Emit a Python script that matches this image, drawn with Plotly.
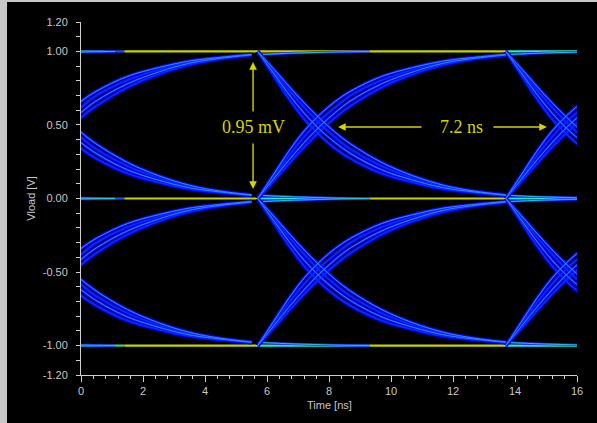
import plotly.graph_objects as go

# ---------------- data ----------------
x_tickvals = [0, 2, 4, 6, 8, 10, 12, 14, 16]
x_ticktext = ["0", "2", "4", "6", "8", "10", "12", "14", "16"]
y_tickvals = [-1.2, -1.0, -0.5, 0.0, 0.5, 1.0, 1.2]
y_ticktext = ["-1.20", "-1.00", "-0.50", "0.00", "0.50", "1.00", "1.20"]

# bit transitions (ns) seen in the window; the first lies left of t=0
transition_times = [-2.5, 5.7, 13.7]
# lower logic level of each eye (upper eye 0..1 V, lower eye -1..0 V)
eye_lows = [0.0, -1.0]
eye_swing = 1.0

# time after a transition (ns) and the voltage of the rising traces above the low level
edge_dt = [0, 0.5, 1.0, 1.5, 2.0, 2.5, 3.0, 4.0, 5.0, 6.0, 7.0, 8.0]
rise_traces = [
    [0.00, 0.16, 0.32, 0.46, 0.57, 0.66, 0.73, 0.83, 0.89, 0.935, 0.96, 0.98],
    [0.00, 0.145, 0.29, 0.42, 0.53, 0.62, 0.70, 0.805, 0.875, 0.927, 0.957, 0.978],
    [0.00, 0.13, 0.26, 0.38, 0.49, 0.585, 0.665, 0.78, 0.86, 0.92, 0.953, 0.976],
    [0.00, 0.115, 0.235, 0.35, 0.455, 0.55, 0.63, 0.755, 0.845, 0.91, 0.95, 0.975],
]
# falling traces, voltage above the low level
fall_traces = [
    [1.00, 0.84, 0.68, 0.54, 0.43, 0.34, 0.27, 0.17, 0.11, 0.065, 0.04, 0.02],
    [1.00, 0.855, 0.71, 0.58, 0.47, 0.38, 0.305, 0.195, 0.125, 0.073, 0.044, 0.022],
    [1.00, 0.87, 0.74, 0.62, 0.51, 0.415, 0.335, 0.22, 0.14, 0.08, 0.047, 0.024],
    [1.00, 0.885, 0.765, 0.65, 0.545, 0.45, 0.37, 0.245, 0.155, 0.09, 0.05, 0.025],
]
# traces that stay at a level after a transition keep settling onto it
settle_dt = [0, 1.2, 2.4, 3.6]
settle_gap = [0.022, 0.011, 0.004, 0.0]

# steady-level line colouring (segment start/end in ns)
seg_start = [0.0, 0.8, 1.4, 5.7, 9.3, 13.7]
seg_end = [0.8, 1.4, 5.7, 9.3, 13.7, 16.0]
level_values = [1.0, 0.0, -1.0]
level_seg_colors = [
    ["#2fe3d3", "#1b4dff", "#c8d200", "#c8d200", "#c8d200", "#2fe3d3"],
    ["#2fe3d3", "#1b4dff", "#c8d200", "#2fe3d3", "#c8d200", "#2fe3d3"],
    ["#2fe3d3", "#46d070", "#c8d200", "#2fe3d3", "#c8d200", "#2fe3d3"],
]

# ---------------- build figure ----------------
fig = go.Figure()


def bundle(traces):
    xs, ys = [], []
    for low in eye_lows:
        for t0 in transition_times:
            for tr in traces:
                xs += [t0 + d for d in edge_dt] + [None]
                ys += [low + v for v in tr] + [None]
    return xs, ys


edge_x, edge_y = bundle(rise_traces + fall_traces)
core_x, core_y = bundle([rise_traces[0], rise_traces[2], fall_traces[1], fall_traces[3]])

settle_x, settle_y = [], []
for low in eye_lows:
    for t0 in transition_times:
        settle_x += [t0 + d for d in settle_dt] + [None]
        settle_y += [low + eye_swing - g for g in settle_gap] + [None]
        settle_x += [t0 + d for d in settle_dt] + [None]
        settle_y += [low + g for g in settle_gap] + [None]

# steady levels
for lv, cols in zip(level_values, level_seg_colors):
    for a, b, c in zip(seg_start, seg_end, cols):
        fig.add_trace(go.Scatter(x=[a, b], y=[lv, lv], mode="lines",
                                 line=dict(color=c, width=2.2),
                                 hoverinfo="skip", showlegend=False))

# settling traces near the levels
fig.add_trace(go.Scatter(x=settle_x, y=settle_y, mode="lines",
                         line=dict(color="#1030ff", width=2.4, shape="spline"),
                         hoverinfo="skip", showlegend=False))
fig.add_trace(go.Scatter(x=settle_x, y=settle_y, mode="lines",
                         line=dict(color="#30c8e8", width=0.9, shape="spline"),
                         hoverinfo="skip", showlegend=False))

# transition bundles (density look: dark wide, brighter core on some)
for col, w in [("#0000dc", 3.6), ("#0828ff", 1.8)]:
    fig.add_trace(go.Scatter(x=edge_x, y=edge_y, mode="lines",
                             line=dict(color=col, width=w, shape="spline", smoothing=1.0),
                             hoverinfo="skip", showlegend=False))
fig.add_trace(go.Scatter(x=core_x, y=core_y, mode="lines",
                         line=dict(color="#3a8cff", width=0.9, shape="spline", smoothing=1.0),
                         hoverinfo="skip", showlegend=False))

# ---------------- layout ----------------
# page offset (white frame of the screenshot): 7 px left, 2 px top
W, H = 590, 421
L, R, T, B = 74, 20, 20, 48
axis_col = "#cfcfcf"
font_col = "#c8c8c8"
yel = "#d6d400"

fig.update_layout(
    width=W, height=H,
    margin=dict(l=L, r=R, t=T, b=B, autoexpand=False),
    paper_bgcolor="black", plot_bgcolor="black",
    font=dict(family="Liberation Sans, Arial, sans-serif", size=11, color=font_col),
    showlegend=False,
)
fig.update_xaxes(
    range=[0, 16], tickmode="array", tickvals=x_tickvals, ticktext=x_ticktext,
    showgrid=False, zeroline=False, showline=True, linecolor=axis_col, linewidth=1,
    ticks="outside", ticklen=6, tickcolor=axis_col, tickwidth=1,
    minor=dict(dtick=0.4, tick0=0, ticks="outside", ticklen=3, tickcolor=axis_col, showgrid=False),
    tickfont=dict(size=11, color=font_col),
)
fig.update_yaxes(
    range=[-1.2, 1.2], tickmode="array", tickvals=y_tickvals, ticktext=y_ticktext,
    showgrid=False, zeroline=False, showline=True, linecolor=axis_col, linewidth=1,
    ticks="outside", ticklen=4, tickcolor=axis_col, tickwidth=1,
    minor=dict(dtick=0.1, tick0=0, ticks="outside", ticklen=4, tickcolor=axis_col, showgrid=False),
    tickfont=dict(size=11, color=font_col), ticklabelstandoff=6,
    title=dict(text="Vload [V]", font=dict(size=11, color=font_col), standoff=4),
)

# x-axis title placed just under the tick labels
fig.add_annotation(xref="paper", yref="paper", x=0.5, y=-30 / 353, yanchor="middle",
                   text="Time [ns]", showarrow=False, font=dict(size=11, color=font_col))

txt_font = dict(family="Liberation Serif, Times New Roman, serif", size=18, color=yel)
fig.add_annotation(x=5.58, y=0.486, text="0.95 mV", showarrow=False, font=txt_font)
fig.add_annotation(x=12.26, y=0.486, text="7.2 ns", showarrow=False, font=txt_font)
arrow_kw = dict(text="", showarrow=True, arrowhead=2, arrowsize=1.1, arrowwidth=1.4,
                arrowcolor=yel, axref="pixel", ayref="pixel")
fig.add_annotation(x=5.55, y=0.928, ax=0, ay=51, **arrow_kw)
fig.add_annotation(x=5.55, y=0.065, ax=0, ay=-47, **arrow_kw)
fig.add_annotation(x=8.29, y=0.486, ax=85, ay=0, **arrow_kw)
fig.add_annotation(x=15.03, y=0.486, ax=-55, ay=0, **arrow_kw)

page_css = (
    "document.body.style.margin='2px 0px 0px 7px';"
    "document.body.style.background='#ffffff';"
    "document.body.style.overflow='hidden';"
    "document.documentElement.style.background='#c8c8c8';"
)
fig.write_html("out.html", post_script=page_css)
